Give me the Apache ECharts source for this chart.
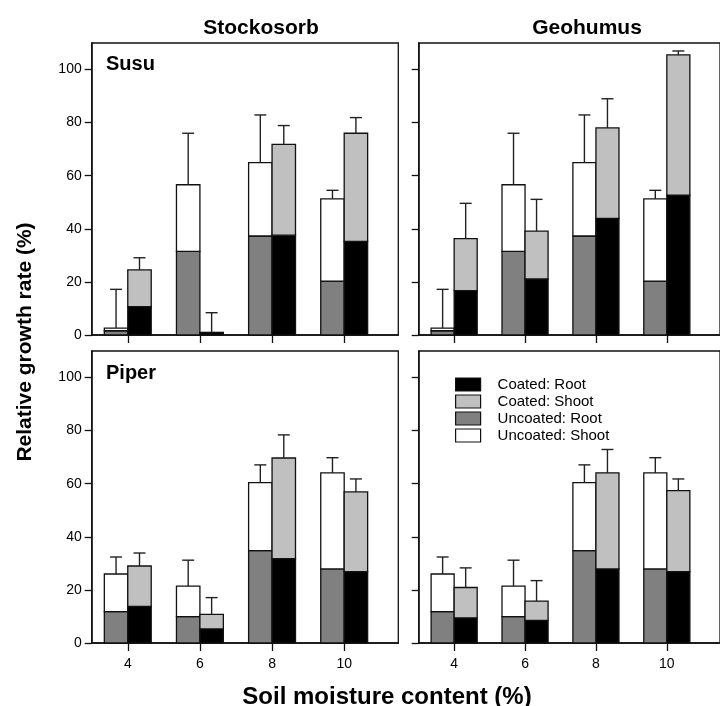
<!DOCTYPE html>
<html><head><meta charset="utf-8">
<script src="https://cdn.jsdelivr.net/npm/echarts@6/dist/echarts.min.js"></script>
<style>html,body{margin:0;padding:0;background:#fff}#c{width:720px;height:706px}</style>
</head><body><div id="c"></div>
<script>
// ---------- data ----------
const moisture = [4, 6, 8, 10];
const yTicks = [0, 20, 40, 60, 80, 100];
const amendments = ['Stockosorb', 'Geohumus'];
const species = ['Susu', 'Piper'];
const legendNames = ['Coated: Root', 'Coated: Shoot', 'Uncoated: Root', 'Uncoated: Shoot'];

// Uncoated (same control in both amendment columns): root part, root+shoot total, upper error
const susuUncoatedRoot  = [1.6, 31.5, 37.3, 20.3];
const susuUncoatedTotal = [2.6, 56.6, 64.9, 51.3];
const susuUncoatedUpper = [17.2, 76.0, 82.9, 54.5];
const piperUncoatedRoot  = [11.8, 9.9, 34.8, 27.9];
const piperUncoatedTotal = [26.0, 21.4, 60.4, 64.1];
const piperUncoatedUpper = [32.4, 31.2, 67.1, 69.8];

// Stockosorb coated
const stockSusuCoatedRoot  = [10.7, 0.9, 37.6, 35.3];
const stockSusuCoatedTotal = [24.5, 1.0, 71.8, 76.0];
const stockSusuCoatedUpper = [29.1, 8.4, 78.9, 81.9];
const stockPiperCoatedRoot  = [13.8, 5.3, 31.8, 26.9];
const stockPiperCoatedTotal = [29.0, 10.8, 69.7, 56.9];
const stockPiperCoatedUpper = [33.9, 17.1, 78.4, 61.8];

// Geohumus coated
const geoSusuCoatedRoot  = [16.7, 21.1, 43.9, 52.7];
const geoSusuCoatedTotal = [36.3, 39.1, 78.0, 105.5];
const geoSusuCoatedUpper = [49.6, 51.1, 89.0, 107.0];
const geoPiperCoatedRoot  = [9.5, 8.5, 27.9, 26.9];
const geoPiperCoatedTotal = [20.9, 15.8, 64.1, 57.4];
const geoPiperCoatedUpper = [28.3, 23.5, 72.9, 61.8];

// ---------- layout / style ----------
const FONT = '"Liberation Sans", Arial, Helvetica, sans-serif';
const INK = '#111';
const BAR_HALF = 0.325;   // half bar width in x units
const CAP = 6;            // error cap half width (px)
const COLORS = {
  'Coated: Root': '#000000',
  'Coated: Shoot': '#c0c0c0',
  'Uncoated: Root': '#808080',
  'Uncoated: Shoot': '#ffffff'
};

const panels = [
  {left: 91.7, top: 43,  uR: susuUncoatedRoot,  uT: susuUncoatedTotal,  uU: susuUncoatedUpper,
   cR: stockSusuCoatedRoot, cT: stockSusuCoatedTotal, cU: stockSusuCoatedUpper, xl: false, yl: true},
  {left: 418.7, top: 43, uR: susuUncoatedRoot,  uT: susuUncoatedTotal,  uU: susuUncoatedUpper,
   cR: geoSusuCoatedRoot, cT: geoSusuCoatedTotal, cU: geoSusuCoatedUpper, xl: false, yl: false},
  {left: 91.7, top: 351, uR: piperUncoatedRoot, uT: piperUncoatedTotal, uU: piperUncoatedUpper,
   cR: stockPiperCoatedRoot, cT: stockPiperCoatedTotal, cU: stockPiperCoatedUpper, xl: true, yl: true},
  {left: 418.7, top: 351, uR: piperUncoatedRoot, uT: piperUncoatedTotal, uU: piperUncoatedUpper,
   cR: geoPiperCoatedRoot, cT: geoPiperCoatedTotal, cU: geoPiperCoatedUpper, xl: true, yl: false}
];

function segRender(offset, color) {
  return function (params, api) {
    const x = api.value(0), b = api.value(1), t = api.value(2);
    const p0 = api.coord([x + offset - BAR_HALF, b]);
    const p1 = api.coord([x + offset + BAR_HALF, t]);
    return {
      type: 'rect',
      shape: {x: p0[0], y: p1[1], width: p1[0] - p0[0], height: p0[1] - p1[1]},
      style: {fill: color, stroke: INK, lineWidth: 1.3}
    };
  };
}
function errRender(offset) {
  return function (params, api) {
    const x = api.value(0) + offset;
    const a = api.coord([x, api.value(1)]);
    const b = api.coord([x, api.value(2)]);
    const st = {stroke: '#222', lineWidth: 1.4};
    return {type: 'group', children: [
      {type: 'line', shape: {x1: a[0], y1: a[1], x2: b[0], y2: b[1]}, style: st},
      {type: 'line', shape: {x1: b[0] - CAP, y1: b[1], x2: b[0] + CAP, y2: b[1]}, style: st}
    ]};
  };
}

const grid = [], xAxis = [], yAxis = [], series = [];
panels.forEach((p, i) => {
  grid.push({left: p.left, top: p.top, width: 306.6, height: 292, show: true,
    borderColor: INK, borderWidth: 1.3, backgroundColor: 'transparent'});
  xAxis.push({type: 'value', gridIndex: i, min: 3, max: 11.5,
    axisLine: {show: true, onZero: false, lineStyle: {color: INK, width: 1.5}},
    axisTick: {show: true, customValues: moisture, length: 8, lineStyle: {color: INK, width: 1.3}},
    axisLabel: {show: p.xl, customValues: moisture, fontSize: 14, fontFamily: FONT, color: '#000', margin: 14},
    splitLine: {show: false}});
  yAxis.push({type: 'value', gridIndex: i, min: 0, max: 110,
    axisLine: {show: true, lineStyle: {color: INK, width: 1.5}},
    axisTick: {show: true, customValues: yTicks, length: 7, lineStyle: {color: INK, width: 1.3}},
    axisLabel: {show: p.yl, customValues: yTicks, fontSize: 14, fontFamily: FONT, color: '#000', margin: 10},
    splitLine: {show: false}});
  const segs = [
    ['Uncoated: Root', -BAR_HALF, moisture.map((m, k) => [m, 0, p.uR[k]])],
    ['Uncoated: Shoot', -BAR_HALF, moisture.map((m, k) => [m, p.uR[k], p.uT[k]])],
    ['Coated: Root', BAR_HALF, moisture.map((m, k) => [m, 0, p.cR[k]])],
    ['Coated: Shoot', BAR_HALF, moisture.map((m, k) => [m, p.cR[k], p.cT[k]])]
  ];
  segs.forEach(([name, off, data]) => {
    series.push({type: 'custom', name: name, xAxisIndex: i, yAxisIndex: i,
      renderItem: segRender(off, COLORS[name]), data: data, silent: true,
      itemStyle: {color: COLORS[name], borderColor: INK, borderWidth: 1.2},
      encode: {x: 0, y: [1, 2]}, z: 2});
  });
  series.push({type: 'custom', name: 'err-u', xAxisIndex: i, yAxisIndex: i,
    renderItem: errRender(-BAR_HALF), data: moisture.map((m, k) => [m, p.uT[k], p.uU[k]]),
    encode: {x: 0, y: [1, 2]}, silent: true, z: 3});
  series.push({type: 'custom', name: 'err-c', xAxisIndex: i, yAxisIndex: i,
    renderItem: errRender(BAR_HALF), data: moisture.map((m, k) => [m, p.cT[k], p.cU[k]]),
    encode: {x: 0, y: [1, 2]}, silent: true, z: 3});
});

const txt = (x, y, text, size, align, extra) => Object.assign({
  type: 'text', x: x, y: y, z: 10,
  style: {text: text, fontSize: size, fontWeight: 'bold', fontFamily: FONT,
    fill: '#000', textAlign: align, textVerticalAlign: 'middle'}
}, extra || {});

const graphic = [
  txt(261, 28, amendments[0], 21, 'center'),
  txt(587, 28, amendments[1], 21, 'center'),
  txt(106, 64, species[0], 20, 'left'),
  txt(106, 373, species[1], 20, 'left'),
  txt(25, 342, 'Relative growth rate (%)', 21, 'center', {rotation: Math.PI / 2}),
  txt(387, 697, 'Soil moisture content (%)', 24, 'center')
];

const chart = echarts.init(document.getElementById('c'), null, {renderer: 'canvas'});
chart.setOption({
  animation: false,
  backgroundColor: '#fff',
  grid: grid, xAxis: xAxis, yAxis: yAxis, series: series, graphic: graphic,
  legend: {orient: 'vertical', left: 455, top: 377, padding: 0, itemWidth: 25, itemHeight: 13, itemGap: 2,
    data: legendNames, icon: 'rect', selectedMode: false,
    itemStyle: {borderColor: INK, borderWidth: 1.2},
    textStyle: {fontSize: 15, lineHeight: 13, fontFamily: FONT, color: '#000', padding: [0, 0, 0, 12]}}
});
</script></body></html>
